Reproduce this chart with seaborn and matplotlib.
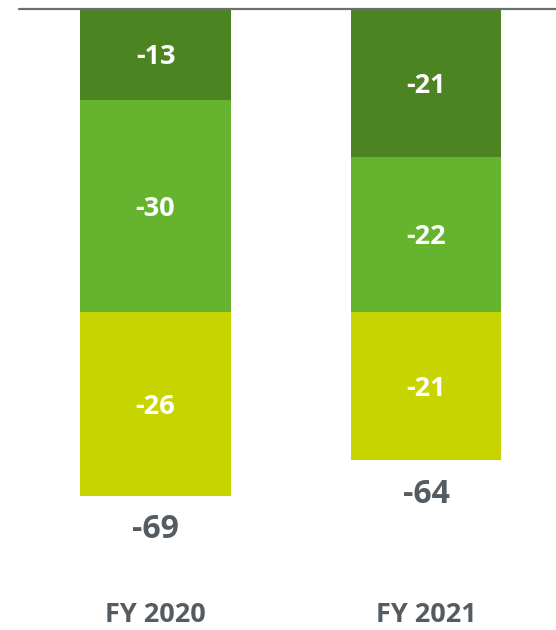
import matplotlib
matplotlib.use("Agg")
import matplotlib.pyplot as plt
import seaborn as sns
import numpy as np

years = ["FY 2020", "FY 2021"]
seg_top = [-13, -21]
seg_mid = [-30, -22]
seg_low = [-26, -21]
totals = [-69, -64]

col_top = "#4d8422"
col_mid = "#66b32e"
col_low = "#c8d400"
text_grey = "#545b61"

sns.set_style("white")
plt.rcParams["font.family"] = ["Open Sans", "DejaVu Sans"]

fig = plt.figure(figsize=(5.56, 6.30), dpi=100)
ax = fig.add_axes([19 / 556, 0, 1 - 19 / 556, 1 - 8.5 / 630])

top = np.array(seg_top)
mid = np.array(seg_mid)
low = np.array(seg_low)
cum_top = top
cum_mid = top + mid
cum_low = top + mid + low

# Stacked negative bars drawn as overlapping cumulative layers
bw = 0.558
for vals, col in [(cum_low, col_low), (cum_mid, col_mid), (cum_top, col_top)]:
    sns.barplot(x=years, y=vals, color=col, width=bw, saturation=1,
                ax=ax, linewidth=0, edgecolor="none")

# Segment value labels, totals and category names
for i in range(len(years)):
    bounds = [0, cum_top[i], cum_mid[i], cum_low[i]]
    for j, v in enumerate([top[i], mid[i], low[i]]):
        yc = (bounds[j] + bounds[j + 1]) / 2
        ax.text(i, yc, f"{v}", color="white", fontsize=19.5, fontweight="bold",
                ha="center", va="center_baseline")
    ax.text(i, cum_low[i] - 4.3, f"{totals[i]}", color=text_grey, fontsize=23,
            fontweight="bold", ha="center", va="center_baseline")
    ax.text(i, -85.5, years[i], color=text_grey, fontsize=19.5,
            fontweight="bold", ha="center", va="center_baseline")

ax.axhline(0, color="#6b6e73", linewidth=1.6, clip_on=False, zorder=5)

ax.set_xlim(-0.505, 1.481)
ax.set_ylim(-(630 - 8.5) / 7.06, 0)
ax.set_xticks([])
ax.set_yticks([])
ax.set_xlabel("")
ax.set_ylabel("")
for s in ax.spines.values():
    s.set_visible(False)

fig.savefig("out.png", dpi=100)
